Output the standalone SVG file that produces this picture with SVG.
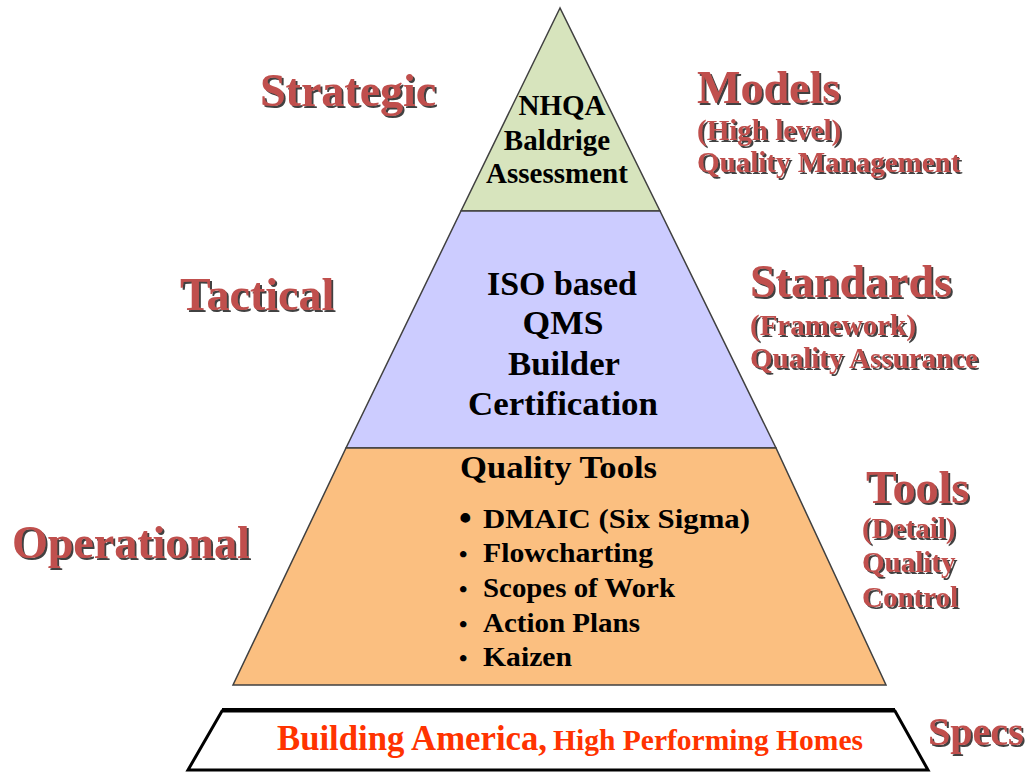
<svg xmlns="http://www.w3.org/2000/svg" width="1028" height="772" viewBox="0 0 1028 772">
  <defs>
    <filter id="shadow" x="-10%" y="-20%" width="120%" height="150%">
      <feDropShadow dx="2" dy="2" stdDeviation="0.7" flood-color="#222" flood-opacity="0.85"/>
    </filter>
  </defs>
  <style>
    text { font-family: "Liberation Serif", "Times New Roman", serif; font-weight: bold; }
    .lbl { fill: #C0504D; filter: url(#shadow); }
    .big { font-size: 46px; }
    .sub { font-size: 29px; }
    .tier { stroke: #404040; stroke-width: 1.5; stroke-linejoin: miter; }
    .inner { fill: #000; text-anchor: middle; }
    .item { fill: #000; font-size: 28px; }
    .dot { fill: #000; font-size: 24px; }
    .dot1 { fill: #000; font-size: 36px; }
    .red { fill: #FF3300; }
  </style>
  <rect width="1028" height="772" fill="#FFFFFF"/>

  <g id="tier-strategic">
    <polygon class="tier" points="560,8 461,211 660,211" fill="#D7E4BD"/>
    <text class="inner" font-size="29" x="562" y="115">NHQA</text>
    <text class="inner" font-size="29" x="557" y="150">Baldrige</text>
    <text class="inner" font-size="29" x="557" y="183">Assessment</text>
  </g>

  <g id="tier-tactical">
    <polygon class="tier" points="461,211 660,211 776,448 346,448" fill="#CCCCFF"/>
    <text class="inner" font-size="34" x="562" y="295" textLength="150" lengthAdjust="spacingAndGlyphs">ISO based</text>
    <text class="inner" font-size="34" x="563" y="334" textLength="81" lengthAdjust="spacingAndGlyphs">QMS</text>
    <text class="inner" font-size="34" x="564" y="375" textLength="112" lengthAdjust="spacingAndGlyphs">Builder</text>
    <text class="inner" font-size="34" x="563" y="415" textLength="190" lengthAdjust="spacingAndGlyphs">Certification</text>
  </g>

  <g id="tier-operational">
    <polygon class="tier" points="346,448 776,448 886,685 233,685" fill="#FBBF80"/>
    <text fill="#000" font-size="32" x="460" y="478" textLength="197" lengthAdjust="spacingAndGlyphs">Quality Tools</text>
    <text class="dot1" x="459" y="530">•</text>
    <text class="item" x="483" y="528" textLength="267" lengthAdjust="spacingAndGlyphs">DMAIC (Six Sigma)</text>
    <text class="dot" x="459" y="562">•</text>
    <text class="item" x="483" y="562" textLength="170" lengthAdjust="spacingAndGlyphs">Flowcharting</text>
    <text class="dot" x="459" y="597">•</text>
    <text class="item" x="483" y="597" textLength="192" lengthAdjust="spacingAndGlyphs">Scopes of Work</text>
    <text class="dot" x="459" y="632">•</text>
    <text class="item" x="483" y="632" textLength="157" lengthAdjust="spacingAndGlyphs">Action Plans</text>
    <text class="dot" x="459" y="666">•</text>
    <text class="item" x="483" y="666" textLength="89" lengthAdjust="spacingAndGlyphs">Kaizen</text>
  </g>

  <g id="specs-base">
    <polygon points="222,711 895,711 928,770 188,770" fill="#FFFFFF" stroke="#000" stroke-width="3"/>
    <line x1="222" y1="710" x2="895" y2="710" stroke="#000" stroke-width="4"/>
    <text class="red" x="277" y="750" font-size="35" textLength="270" lengthAdjust="spacingAndGlyphs">Building America,</text>
    <text class="red" x="553" y="750" font-size="30" textLength="310" lengthAdjust="spacingAndGlyphs">High Performing Homes</text>
  </g>

  <g id="labels-left">
    <text class="lbl big" x="260" y="106">Strategic</text>
    <text class="lbl big" x="180" y="310">Tactical</text>
    <text class="lbl big" x="12" y="558">Operational</text>
  </g>

  <g id="labels-right">
    <text class="lbl big" x="697" y="103">Models</text>
    <text class="lbl sub" x="697" y="140">(High level)</text>
    <text class="lbl sub" x="697" y="172">Quality Management</text>
    <text class="lbl big" x="750" y="297">Standards</text>
    <text class="lbl sub" x="750" y="335">(Framework)</text>
    <text class="lbl sub" x="750" y="368">Quality Assurance</text>
    <text class="lbl big" x="866" y="503">Tools</text>
    <text class="lbl sub" x="862" y="538">(Detail)</text>
    <text class="lbl sub" x="862" y="572">Quality</text>
    <text class="lbl sub" x="862" y="607">Control</text>
    <text class="lbl" font-size="40" x="928" y="745">Specs</text>
  </g>

  <g id="connectors"/>
</svg>
